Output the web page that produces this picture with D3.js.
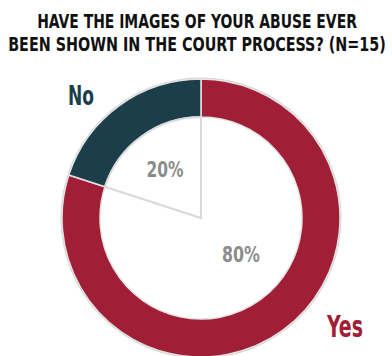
<!DOCTYPE html>
<html><head><meta charset="utf-8">
<script src="https://cdn.jsdelivr.net/npm/d3@7"></script>
<style>
html,body{margin:0;padding:0;background:#fff;}
text{font-family:"DejaVu Sans Condensed","Liberation Sans Narrow","Roboto",sans-serif;font-weight:bold;}
</style></head>
<body><svg id="chart" width="392" height="356"></svg>
<script>
const titleLines = ["HAVE THE IMAGES OF YOUR ABUSE EVER", "BEEN SHOWN IN THE COURT PROCESS? (N=15)"];
const categories = ["Yes", "No"];
const values = [80, 20];
const colors = ["#a11f36", "#1c3e4b"];
const pctLabels = ["80%", "20%"];

const svg = d3.select("#chart");
const cx = 201, cy = 218, rOuter = 139, rInner = 101;

// place text centred at (x, baseline y) squeezed horizontally to width w
function fitText(parent, str, x, y, size, w, fill) {
  const gg = parent.append("g");
  const t = gg.append("text").attr("x", 0).attr("y", 0)
    .attr("text-anchor", "middle").attr("font-size", size).attr("fill", fill).text(str);
  const nat = t.node().getComputedTextLength();
  const s = Math.min(1, w / nat);
  gg.attr("transform", `translate(${x},${y}) scale(${s},1)`);
  return gg;
}

// Title
fitText(svg, titleLines[0], 197, 27.5, 20, 320, "#111");
fitText(svg, titleLines[1], 197, 50.5, 20, 378, "#111");

const g = svg.append("g").attr("transform", `translate(${cx},${cy})`);
const pie = d3.pie().sort(null).value(d => d)(values);

// faint shadow around ring
g.append("circle").attr("r", rOuter + 0.5).attr("fill", "none").attr("stroke", "#d6d6d6").attr("stroke-width", 2);

const arc = d3.arc().innerRadius(rInner).outerRadius(rOuter);
g.selectAll("path.ring").data(pie).join("path").attr("class", "ring")
  .attr("d", arc).attr("fill", (d, i) => colors[i])
  .attr("stroke", "#e4e4e4").attr("stroke-width", 1.5);

// wedge outline for "No" slice inside
const wedge = d3.arc().innerRadius(0).outerRadius(rInner);
g.append("path").datum(pie[1]).attr("d", wedge)
  .attr("fill", "#fff").attr("stroke", "#d9d9d9").attr("stroke-width", 2);

// percentage labels
const pctPos = [[40, 44, 38], [-36, -41, 37]];
pie.forEach((d, i) => {
  fitText(g, pctLabels[i], pctPos[i][0], pctPos[i][1], 21, pctPos[i][2], "#8c8c8c");
});

// category labels
const catPos = [[345, 337, 30, 36], [81, 105, 27, 26]];
categories.forEach((c, i) => {
  fitText(svg, c, catPos[i][0], catPos[i][1], catPos[i][2], catPos[i][3], colors[i]);
});
</script></body></html>
